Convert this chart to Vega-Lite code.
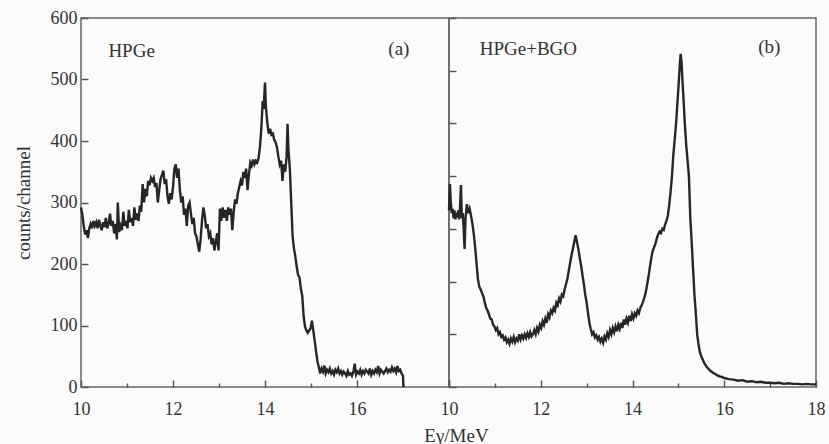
{
  "$schema": "https://vega.github.io/schema/vega-lite/v6.json",
  "background": "#fbfbfb",
  "padding": {"left": 13, "top": 8, "right": 5, "bottom": 0},
  "spacing": 0,
  "bounds": "flush",
  "config": {
    "view": {"stroke": "#666", "strokeWidth": 1.5},
    "style": {"cell": {"stroke": "#666", "strokeWidth": 1.5}, "guide-label": {"font": "Liberation Serif", "fontSize": 18, "fill": "#333"}, "guide-title": {"font": "Liberation Serif", "fontSize": 19, "fill": "#333", "fontWeight": "normal"}},
    "concat": {"spacing": 0},
    "font": "Liberation Serif",
    "axis": {"domain": false, "grid": false, "labelFont": "Liberation Serif", "labelFontSize": 18, "labelColor": "#333", "tickColor": "#555", "tickWidth": 1.5, "titleFont": "Liberation Serif", "titleFontWeight": "normal", "titleFontSize": 19, "titleColor": "#333"}
  },
  "datasets": {
    "hpge": [
      {"E":10.00,"counts":292},{"E":10.03,"counts":280},{"E":10.06,"counts":262},{"E":10.09,"counts":248},{"E":10.12,"counts":255},{"E":10.15,"counts":242},{"E":10.18,"counts":258},{"E":10.21,"counts":265},{"E":10.24,"counts":258},{"E":10.27,"counts":270},{"E":10.30,"counts":262},{"E":10.33,"counts":268},{"E":10.36,"counts":258},{"E":10.39,"counts":272},{"E":10.42,"counts":262},{"E":10.45,"counts":255},{"E":10.48,"counts":268},{"E":10.51,"counts":260},{"E":10.54,"counts":275},{"E":10.57,"counts":258},{"E":10.60,"counts":265},{"E":10.63,"counts":282},{"E":10.66,"counts":262},{"E":10.69,"counts":270},{"E":10.72,"counts":250},{"E":10.75,"counts":265},{"E":10.78,"counts":240},{"E":10.80,"counts":300},{"E":10.83,"counts":252},{"E":10.86,"counts":262},{"E":10.89,"counts":255},{"E":10.92,"counts":285},{"E":10.95,"counts":262},{"E":10.98,"counts":270},{"E":11.01,"counts":258},{"E":11.04,"counts":288},{"E":11.07,"counts":268},{"E":11.10,"counts":275},{"E":11.13,"counts":262},{"E":11.16,"counts":292},{"E":11.19,"counts":272},{"E":11.22,"counts":282},{"E":11.25,"counts":270},{"E":11.28,"counts":295},{"E":11.31,"counts":285},{"E":11.34,"counts":330},{"E":11.37,"counts":300},{"E":11.40,"counts":322},{"E":11.43,"counts":310},{"E":11.46,"counts":335},{"E":11.49,"counts":328},{"E":11.52,"counts":340},{"E":11.55,"counts":335},{"E":11.58,"counts":340},{"E":11.61,"counts":325},{"E":11.64,"counts":332},{"E":11.67,"counts":300},{"E":11.70,"counts":320},{"E":11.73,"counts":338},{"E":11.76,"counts":345},{"E":11.79,"counts":352},{"E":11.82,"counts":330},{"E":11.85,"counts":338},{"E":11.88,"counts":310},{"E":11.91,"counts":298},{"E":11.94,"counts":315},{"E":11.97,"counts":305},{"E":12.00,"counts":325},{"E":12.03,"counts":355},{"E":12.06,"counts":362},{"E":12.09,"counts":340},{"E":12.12,"counts":355},{"E":12.15,"counts":320},{"E":12.18,"counts":300},{"E":12.21,"counts":310},{"E":12.24,"counts":280},{"E":12.27,"counts":290},{"E":12.30,"counts":262},{"E":12.33,"counts":295},{"E":12.36,"counts":300},{"E":12.39,"counts":282},{"E":12.42,"counts":265},{"E":12.45,"counts":275},{"E":12.48,"counts":250},{"E":12.51,"counts":245},{"E":12.54,"counts":232},{"E":12.57,"counts":220},{"E":12.60,"counts":240},{"E":12.63,"counts":270},{"E":12.66,"counts":292},{"E":12.69,"counts":280},{"E":12.72,"counts":258},{"E":12.75,"counts":265},{"E":12.78,"counts":245},{"E":12.81,"counts":250},{"E":12.84,"counts":232},{"E":12.87,"counts":242},{"E":12.90,"counts":222},{"E":12.93,"counts":235},{"E":12.96,"counts":250},{"E":12.99,"counts":222},{"E":13.02,"counts":290},{"E":13.05,"counts":270},{"E":13.08,"counts":292},{"E":13.11,"counts":275},{"E":13.14,"counts":288},{"E":13.17,"counts":270},{"E":13.20,"counts":292},{"E":13.23,"counts":280},{"E":13.26,"counts":290},{"E":13.29,"counts":255},{"E":13.32,"counts":285},{"E":13.35,"counts":305},{"E":13.38,"counts":298},{"E":13.41,"counts":315},{"E":13.44,"counts":325},{"E":13.47,"counts":335},{"E":13.50,"counts":328},{"E":13.53,"counts":350},{"E":13.56,"counts":340},{"E":13.59,"counts":355},{"E":13.62,"counts":320},{"E":13.65,"counts":345},{"E":13.68,"counts":365},{"E":13.71,"counts":360},{"E":13.74,"counts":370},{"E":13.77,"counts":362},{"E":13.80,"counts":368},{"E":13.83,"counts":365},{"E":13.86,"counts":372},{"E":13.89,"counts":390},{"E":13.92,"counts":420},{"E":13.95,"counts":465},{"E":13.97,"counts":452},{"E":14.00,"counts":495},{"E":14.02,"counts":455},{"E":14.05,"counts":430},{"E":14.08,"counts":412},{"E":14.11,"counts":420},{"E":14.14,"counts":410},{"E":14.17,"counts":412},{"E":14.20,"counts":402},{"E":14.23,"counts":398},{"E":14.26,"counts":390},{"E":14.29,"counts":375},{"E":14.32,"counts":362},{"E":14.35,"counts":368},{"E":14.38,"counts":335},{"E":14.41,"counts":362},{"E":14.44,"counts":350},{"E":14.47,"counts":375},{"E":14.49,"counts":428},{"E":14.51,"counts":385},{"E":14.54,"counts":355},{"E":14.57,"counts":300},{"E":14.60,"counts":245},{"E":14.63,"counts":225},{"E":14.66,"counts":212},{"E":14.69,"counts":195},{"E":14.72,"counts":182},{"E":14.75,"counts":178},{"E":14.78,"counts":160},{"E":14.81,"counts":148},{"E":14.84,"counts":115},{"E":14.87,"counts":98},{"E":14.90,"counts":92},{"E":14.93,"counts":88},{"E":14.96,"counts":92},{"E":14.99,"counts":95},{"E":15.02,"counts":108},{"E":15.05,"counts":92},{"E":15.08,"counts":75},{"E":15.11,"counts":58},{"E":15.14,"counts":42},{"E":15.17,"counts":32},{"E":15.20,"counts":22},{"E":15.23,"counts":30},{"E":15.26,"counts":25},{"E":15.29,"counts":35},{"E":15.32,"counts":22},{"E":15.35,"counts":28},{"E":15.38,"counts":24},{"E":15.41,"counts":30},{"E":15.44,"counts":22},{"E":15.47,"counts":26},{"E":15.50,"counts":20},{"E":15.53,"counts":28},{"E":15.56,"counts":24},{"E":15.59,"counts":30},{"E":15.62,"counts":22},{"E":15.65,"counts":26},{"E":15.68,"counts":20},{"E":15.71,"counts":25},{"E":15.74,"counts":22},{"E":15.77,"counts":18},{"E":15.80,"counts":26},{"E":15.83,"counts":20},{"E":15.86,"counts":22},{"E":15.89,"counts":18},{"E":15.92,"counts":24},{"E":15.95,"counts":38},{"E":15.98,"counts":20},{"E":16.01,"counts":25},{"E":16.04,"counts":22},{"E":16.07,"counts":28},{"E":16.10,"counts":20},{"E":16.13,"counts":26},{"E":16.16,"counts":22},{"E":16.19,"counts":28},{"E":16.22,"counts":25},{"E":16.25,"counts":22},{"E":16.28,"counts":30},{"E":16.31,"counts":20},{"E":16.34,"counts":26},{"E":16.37,"counts":22},{"E":16.40,"counts":28},{"E":16.43,"counts":24},{"E":16.46,"counts":34},{"E":16.49,"counts":22},{"E":16.52,"counts":28},{"E":16.55,"counts":25},{"E":16.58,"counts":22},{"E":16.61,"counts":26},{"E":16.64,"counts":30},{"E":16.67,"counts":24},{"E":16.70,"counts":28},{"E":16.73,"counts":25},{"E":16.76,"counts":32},{"E":16.79,"counts":26},{"E":16.82,"counts":30},{"E":16.85,"counts":24},{"E":16.88,"counts":34},{"E":16.91,"counts":26},{"E":16.94,"counts":28},{"E":16.97,"counts":22},{"E":17.00,"counts":18},{"E":17.01,"counts":0}
    ],
    "bgo": [
      {"E":10.00,"counts":335},{"E":10.02,"counts":385},{"E":10.04,"counts":350},{"E":10.06,"counts":330},{"E":10.08,"counts":338},{"E":10.10,"counts":320},{"E":10.12,"counts":335},{"E":10.14,"counts":318},{"E":10.16,"counts":330},{"E":10.18,"counts":322},{"E":10.20,"counts":335},{"E":10.22,"counts":318},{"E":10.24,"counts":340},{"E":10.26,"counts":383},{"E":10.28,"counts":320},{"E":10.30,"counts":330},{"E":10.32,"counts":300},{"E":10.34,"counts":262},{"E":10.36,"counts":320},{"E":10.39,"counts":347},{"E":10.42,"counts":330},{"E":10.45,"counts":338},{"E":10.48,"counts":325},{"E":10.51,"counts":310},{"E":10.54,"counts":290},{"E":10.57,"counts":265},{"E":10.60,"counts":235},{"E":10.63,"counts":205},{"E":10.66,"counts":190},{"E":10.69,"counts":185},{"E":10.72,"counts":178},{"E":10.75,"counts":172},{"E":10.78,"counts":160},{"E":10.81,"counts":150},{"E":10.84,"counts":145},{"E":10.87,"counts":138},{"E":10.90,"counts":130},{"E":10.93,"counts":128},{"E":10.96,"counts":118},{"E":10.99,"counts":115},{"E":11.02,"counts":108},{"E":11.05,"counts":112},{"E":11.08,"counts":100},{"E":11.11,"counts":104},{"E":11.14,"counts":95},{"E":11.17,"counts":98},{"E":11.20,"counts":90},{"E":11.23,"counts":94},{"E":11.26,"counts":85},{"E":11.29,"counts":90},{"E":11.32,"counts":82},{"E":11.35,"counts":92},{"E":11.38,"counts":86},{"E":11.41,"counts":95},{"E":11.44,"counts":85},{"E":11.47,"counts":92},{"E":11.50,"counts":88},{"E":11.53,"counts":100},{"E":11.56,"counts":90},{"E":11.59,"counts":98},{"E":11.62,"counts":92},{"E":11.65,"counts":100},{"E":11.68,"counts":93},{"E":11.71,"counts":102},{"E":11.74,"counts":95},{"E":11.77,"counts":104},{"E":11.80,"counts":96},{"E":11.83,"counts":100},{"E":11.86,"counts":108},{"E":11.89,"counts":100},{"E":11.92,"counts":112},{"E":11.95,"counts":105},{"E":11.98,"counts":118},{"E":12.01,"counts":112},{"E":12.04,"counts":125},{"E":12.07,"counts":118},{"E":12.10,"counts":130},{"E":12.13,"counts":122},{"E":12.16,"counts":138},{"E":12.19,"counts":132},{"E":12.22,"counts":145},{"E":12.25,"counts":140},{"E":12.28,"counts":150},{"E":12.31,"counts":145},{"E":12.34,"counts":160},{"E":12.37,"counts":155},{"E":12.40,"counts":168},{"E":12.43,"counts":162},{"E":12.46,"counts":175},{"E":12.49,"counts":172},{"E":12.52,"counts":185},{"E":12.55,"counts":195},{"E":12.58,"counts":205},{"E":12.61,"counts":220},{"E":12.64,"counts":235},{"E":12.67,"counts":250},{"E":12.70,"counts":262},{"E":12.73,"counts":275},{"E":12.76,"counts":288},{"E":12.79,"counts":275},{"E":12.82,"counts":262},{"E":12.85,"counts":245},{"E":12.88,"counts":230},{"E":12.91,"counts":212},{"E":12.94,"counts":195},{"E":12.97,"counts":175},{"E":13.00,"counts":160},{"E":13.03,"counts":140},{"E":13.06,"counts":122},{"E":13.09,"counts":110},{"E":13.12,"counts":100},{"E":13.15,"counts":104},{"E":13.18,"counts":94},{"E":13.21,"counts":98},{"E":13.24,"counts":90},{"E":13.27,"counts":95},{"E":13.30,"counts":86},{"E":13.33,"counts":92},{"E":13.36,"counts":84},{"E":13.39,"counts":96},{"E":13.42,"counts":90},{"E":13.45,"counts":102},{"E":13.48,"counts":95},{"E":13.51,"counts":108},{"E":13.54,"counts":100},{"E":13.57,"counts":112},{"E":13.60,"counts":104},{"E":13.63,"counts":115},{"E":13.66,"counts":106},{"E":13.69,"counts":118},{"E":13.72,"counts":110},{"E":13.75,"counts":122},{"E":13.78,"counts":112},{"E":13.81,"counts":128},{"E":13.84,"counts":118},{"E":13.87,"counts":130},{"E":13.90,"counts":122},{"E":13.93,"counts":135},{"E":13.96,"counts":125},{"E":13.99,"counts":138},{"E":14.02,"counts":130},{"E":14.05,"counts":140},{"E":14.08,"counts":135},{"E":14.11,"counts":145},{"E":14.14,"counts":140},{"E":14.17,"counts":150},{"E":14.20,"counts":155},{"E":14.23,"counts":162},{"E":14.26,"counts":170},{"E":14.29,"counts":180},{"E":14.32,"counts":195},{"E":14.35,"counts":210},{"E":14.38,"counts":228},{"E":14.41,"counts":245},{"E":14.44,"counts":258},{"E":14.47,"counts":265},{"E":14.50,"counts":272},{"E":14.53,"counts":282},{"E":14.56,"counts":290},{"E":14.59,"counts":295},{"E":14.62,"counts":292},{"E":14.65,"counts":300},{"E":14.68,"counts":298},{"E":14.71,"counts":308},{"E":14.74,"counts":315},{"E":14.77,"counts":325},{"E":14.80,"counts":345},{"E":14.83,"counts":370},{"E":14.86,"counts":400},{"E":14.89,"counts":440},{"E":14.92,"counts":470},{"E":14.95,"counts":500},{"E":14.98,"counts":540},{"E":15.01,"counts":580},{"E":15.03,"counts":610},{"E":15.05,"counts":632},{"E":15.07,"counts":615},{"E":15.09,"counts":580},{"E":15.11,"counts":550},{"E":15.14,"counts":500},{"E":15.17,"counts":460},{"E":15.20,"counts":430},{"E":15.23,"counts":400},{"E":15.26,"counts":320},{"E":15.29,"counts":275},{"E":15.32,"counts":225},{"E":15.35,"counts":175},{"E":15.38,"counts":140},{"E":15.41,"counts":100},{"E":15.44,"counts":80},{"E":15.47,"counts":66},{"E":15.50,"counts":58},{"E":15.53,"counts":52},{"E":15.56,"counts":46},{"E":15.59,"counts":42},{"E":15.62,"counts":38},{"E":15.65,"counts":35},{"E":15.68,"counts":32},{"E":15.71,"counts":30},{"E":15.74,"counts":28},{"E":15.77,"counts":26},{"E":15.80,"counts":25},{"E":15.85,"counts":22},{"E":15.90,"counts":20},{"E":15.95,"counts":19},{"E":16.00,"counts":17},{"E":16.10,"counts":15},{"E":16.20,"counts":14},{"E":16.30,"counts":12},{"E":16.40,"counts":13},{"E":16.50,"counts":10},{"E":16.60,"counts":11},{"E":16.70,"counts":9},{"E":16.80,"counts":10},{"E":16.90,"counts":8},{"E":17.00,"counts":8},{"E":17.10,"counts":7},{"E":17.20,"counts":8},{"E":17.30,"counts":6},{"E":17.40,"counts":7},{"E":17.50,"counts":6},{"E":17.60,"counts":6},{"E":17.70,"counts":5},{"E":17.80,"counts":6},{"E":17.90,"counts":5},{"E":18.00,"counts":5}
    ],
    "notes": [
      {"panel":"a","E":11.10,"counts":547,"label":"HPGe"},
      {"panel":"a","E":16.91,"counts":550,"label":"(a)"},
      {"panel":"b","E":11.73,"counts":641,"label":"HPGe+BGO"},
      {"panel":"b","E":16.98,"counts":645,"label":"(b)"}
    ]
  },
  "hconcat": [
    {
      "width": 368,
      "height": 369,
      "view": {"stroke": "#666", "strokeWidth": 1.5},
      "layer": [
        {
          "data": {"name": "hpge"},
          "mark": {"type": "line", "color": "#262626", "strokeWidth": 2.4},
          "encoding": {
            "x": {"field": "E", "type": "quantitative", "scale": {"domain": [10, 18], "nice": false},
              "axis": {"values": [10,11,12,13,14,15,16,17,18], "format": "d", "labelExpr": "datum.value % 2 === 0 && datum.value < 18 ? datum.label : ''", "labelFlush": false, "labelFont": "Liberation Serif", "labelFontSize": 18, "tickSize": {"condition": {"test": "datum.value % 2 === 0", "value": -7}, "value": -4}, "labelPadding": 20, "title": "Eγ/MeV", "titleFont": "Liberation Serif", "titleX": 375, "titleY": 54, "titleAlign": "center", "titleBaseline": "alphabetic"}},
            "y": {"field": "counts", "type": "quantitative", "scale": {"domain": [0, 600], "nice": false},
              "axis": {"values": [0,50,100,150,200,250,300,350,400,450,500,550,600], "labelExpr": "datum.value % 100 === 0 ? datum.label : ''", "labelFont": "Liberation Serif", "labelFontSize": 18, "tickSize": {"condition": {"test": "datum.value % 100 === 0", "value": -7}, "value": -4}, "labelPadding": 11, "title": "counts/channel", "titleFont": "Liberation Serif", "titlePadding": 17}}
          }
        },
        {
          "data": {"name": "notes"},
          "transform": [{"filter": "datum.panel === 'a'"}],
          "mark": {"type": "text", "font": "Liberation Serif", "fontSize": 19, "color": "#333", "align": "center", "baseline": "middle"},
          "encoding": {
            "x": {"field": "E", "type": "quantitative"},
            "y": {"field": "counts", "type": "quantitative"},
            "text": {"field": "label"}
          }
        }
      ]
    },
    {
      "width": 367,
      "height": 369,
      "view": {"stroke": "#666", "strokeWidth": 1.5},
      "layer": [
        {
          "data": {"name": "bgo"},
          "mark": {"type": "line", "color": "#262626", "strokeWidth": 2.4},
          "encoding": {
            "x": {"field": "E", "type": "quantitative", "scale": {"domain": [10, 18], "nice": false},
              "axis": {"values": [10,11,12,13,14,15,16,17,18], "format": "d", "labelExpr": "datum.value % 2 === 0 ? datum.label : ''", "labelFlush": false, "labelFont": "Liberation Serif", "labelFontSize": 18, "tickSize": {"condition": {"test": "datum.value % 2 === 0", "value": -7}, "value": -4}, "labelPadding": 20, "title": null}},
            "y": {"field": "counts", "type": "quantitative", "scale": {"domain": [0, 700], "nice": false},
              "axis": {"values": [0,50,100,150,200,250,300,350,400,450,500,550,600,650,700], "labels": false, "minExtent": 0, "maxExtent": 0, "tickSize": {"condition": {"test": "datum.value % 100 === 0", "value": -7}, "value": -4}, "title": null}}
          }
        },
        {
          "data": {"name": "notes"},
          "transform": [{"filter": "datum.panel === 'b'"}],
          "mark": {"type": "text", "font": "Liberation Serif", "fontSize": 19, "color": "#333", "align": "center", "baseline": "middle"},
          "encoding": {
            "x": {"field": "E", "type": "quantitative"},
            "y": {"field": "counts", "type": "quantitative"},
            "text": {"field": "label"}
          }
        }
      ]
    }
  ]
}
